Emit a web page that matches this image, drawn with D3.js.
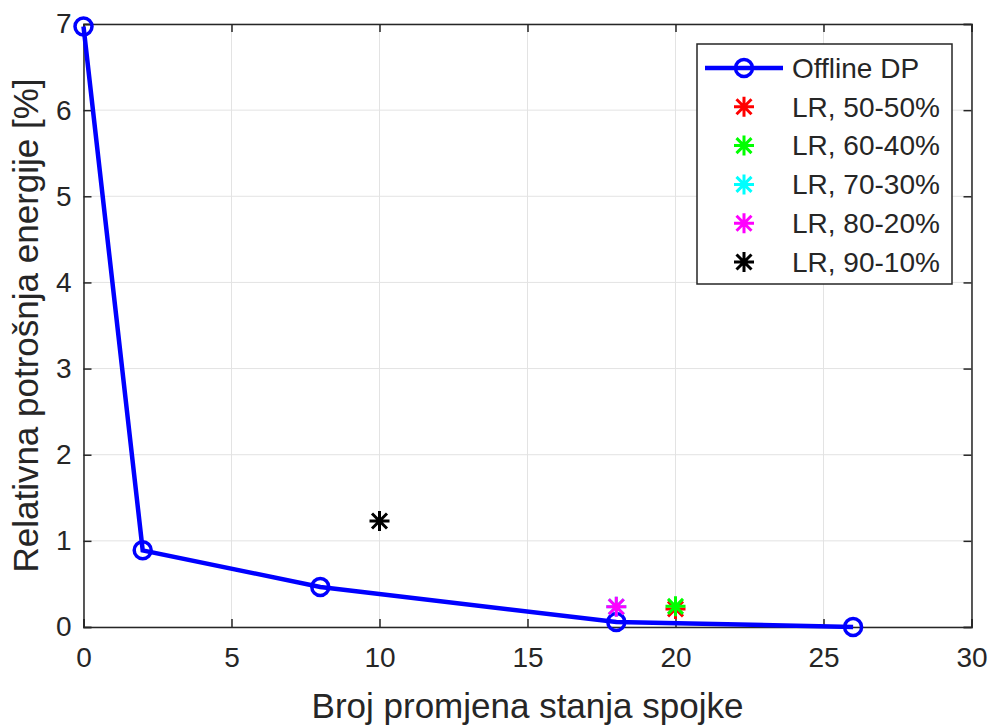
<!DOCTYPE html>
<html lang="hr">
<head>
    <meta charset="UTF-8">
    <title>Relativna potrošnja energije</title>
    <script src="https://cdn.jsdelivr.net/npm/d3@7/dist/d3.min.js"></script>
    <style>
        body { margin: 0; background: #fff; }
        text { font-family: Arial, "Liberation Sans", sans-serif; fill: #262626; }
    </style>
</head>
<body>
<svg width="992" height="725" id="main"></svg>
<script>
    // offline DP curve
    const dpX = [0, 2, 8, 18, 26];
    const dpY = [6.97, 0.89, 0.465, 0.058, 0.0];
    // LR results (one point each)
    const lrNames = ['LR, 50-50%', 'LR, 60-40%', 'LR, 70-30%', 'LR, 80-20%', 'LR, 90-10%'];
    const lrX = [20, 20, 18, 18, 10];
    const lrY = [0.21, 0.24, 0.235, 0.235, 1.23];
    const lrColors = ['#ff0000', '#00ff00', '#00ffff', '#ff00ff', '#000000'];
    const xTicks = [0, 5, 10, 15, 20, 25, 30];
    const yTicks = [0, 1, 2, 3, 4, 5, 6, 7];

    const svg = d3.select('#main');
    const margin = {top: 24, right: 20.5, bottom: 98, left: 83.5};
    const width = +svg.attr('width'), height = +svg.attr('height');
    const innerWidth = width - margin.left - margin.right;
    const innerHeight = height - margin.top - margin.bottom;

    const x = d3.scaleLinear().domain([0, 30]).range([0, innerWidth]);
    const y = d3.scaleLinear().domain([0, 7]).range([innerHeight, 0]);

    const g = svg.append('g').attr('transform', `translate(${margin.left},${margin.top})`);

    // grid
    g.append('g').selectAll('line').data(xTicks).join('line')
        .attr('x1', d => x(d)).attr('x2', d => x(d)).attr('y1', 0).attr('y2', innerHeight)
        .attr('stroke', '#e3e3e3').attr('stroke-width', 1);
    g.append('g').selectAll('line').data(yTicks).join('line')
        .attr('y1', d => y(d)).attr('y2', d => y(d)).attr('x1', 0).attr('x2', innerWidth)
        .attr('stroke', '#e3e3e3').attr('stroke-width', 1);

    // axes, ticks pointing inward
    const xAxis = g.append('g').attr('transform', `translate(0,${innerHeight})`)
        .call(d3.axisBottom(x).tickValues(xTicks).tickSize(-8).tickPadding(20).tickFormat(d3.format('d')));
    const yAxis = g.append('g')
        .call(d3.axisLeft(y).tickValues(yTicks).tickSize(-8).tickPadding(12).tickFormat(d3.format('d')));
    g.append('g').call(d3.axisTop(x).tickValues(xTicks).tickSize(-8).tickFormat(''));
    g.append('g').attr('transform', `translate(${innerWidth},0)`)
        .call(d3.axisRight(y).tickValues(yTicks).tickSize(-8).tickFormat(''));
    g.selectAll('.domain, .tick line').attr('stroke', '#262626').attr('stroke-width', 1.5);
    g.selectAll('.tick text').attr('font-size', '28px').attr('fill', '#262626')
        .attr('font-family', 'Arial, "Liberation Sans", sans-serif');
    xAxis.selectAll('.tick text').attr('dy', '0.71em');

    // axis labels
    svg.append('text').text('Broj promjena stanja spojke')
        .attr('x', margin.left + innerWidth / 2).attr('y', 718)
        .attr('text-anchor', 'middle').attr('font-size', '35px');
    svg.append('text').text('Relativna potrošnja energije [%]')
        .attr('transform', `translate(38,${margin.top + innerHeight / 2}) rotate(-90)`)
        .attr('text-anchor', 'middle').attr('font-size', '35px');

    // star marker path (+ and x)
    function star(cx, cy) {
        const a = 10, b = 7.5;
        return `M${cx - a},${cy}L${cx + a},${cy}M${cx},${cy - a}L${cx},${cy + a}` +
            `M${cx - b},${cy - b}L${cx + b},${cy + b}M${cx - b},${cy + b}L${cx + b},${cy - b}`;
    }

    // DP line with circles
    const dp = dpX.map((d, i) => ({x: d, y: dpY[i]}));
    g.append('path').datum(dp)
        .attr('d', d3.line().x(d => x(d.x)).y(d => y(d.y)))
        .attr('fill', 'none').attr('stroke', '#0000ff').attr('stroke-width', 4.5);
    g.selectAll('.dp').data(dp).join('circle').attr('class', 'dp')
        .attr('cx', d => x(d.x)).attr('cy', d => y(d.y)).attr('r', 8.5)
        .attr('fill', 'none').attr('stroke', '#0000ff').attr('stroke-width', 3.5);

    // LR stars
    lrNames.forEach((name, i) => {
        g.append('path').attr('d', star(x(lrX[i]), y(lrY[i])))
            .attr('stroke', lrColors[i]).attr('stroke-width', 3).attr('fill', 'none');
    });

    // legend
    const leg = svg.append('g');
    leg.append('rect').attr('x', 697).attr('y', 44).attr('width', 255).attr('height', 240)
        .attr('fill', '#fff').attr('stroke', '#262626').attr('stroke-width', 1.5);
    const rowY = i => 68 + i * 38.8;
    leg.append('line').attr('x1', 705).attr('x2', 783).attr('y1', rowY(0)).attr('y2', rowY(0))
        .attr('stroke', '#0000ff').attr('stroke-width', 4.5);
    leg.append('circle').attr('cx', 744).attr('cy', rowY(0)).attr('r', 8.5)
        .attr('fill', 'none').attr('stroke', '#0000ff').attr('stroke-width', 3.5);
    leg.append('text').text('Offline DP').attr('x', 792).attr('y', rowY(0))
        .attr('dy', '0.35em').attr('font-size', '28px').attr('fill', '#000');
    lrNames.forEach((name, i) => {
        const yy = rowY(i + 1);
        leg.append('path').attr('d', star(744, yy))
            .attr('stroke', lrColors[i]).attr('stroke-width', 3).attr('fill', 'none');
        leg.append('text').text(name).attr('x', 792).attr('y', yy)
            .attr('dy', '0.35em').attr('font-size', '28px').attr('fill', '#000');
    });
</script>
</body>
</html>
